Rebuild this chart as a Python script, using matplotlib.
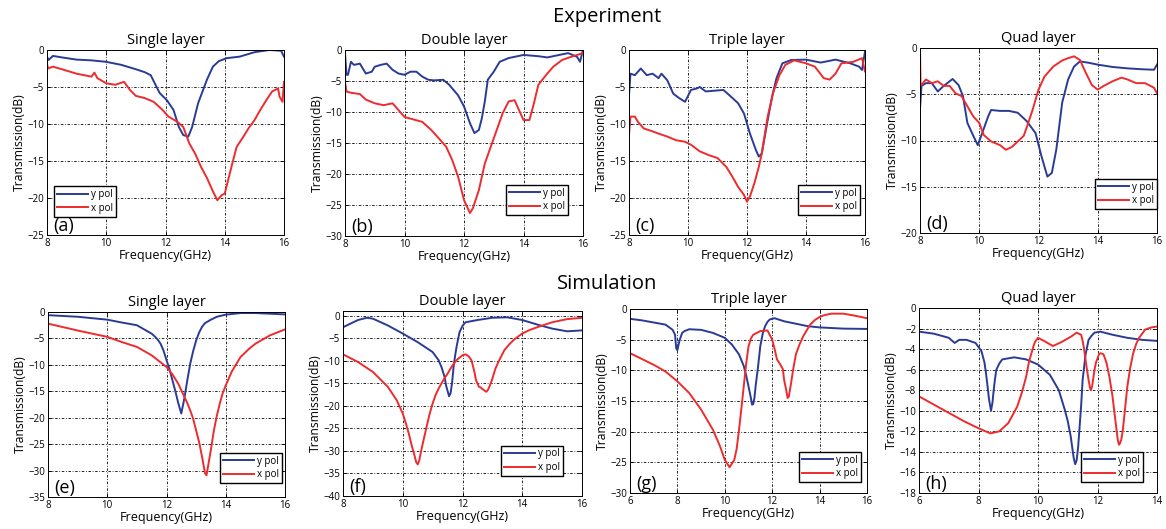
import matplotlib
matplotlib.use("Agg")
import matplotlib.pyplot as plt

plt.rcParams['font.family'] = ['Open Sans', 'DejaVu Sans']

BLUE = "#2a3b96"
RED = "#ee2b2e"

# ---- Experiment (a) single layer
a_y_f = [8.0, 8.05, 8.2, 8.5, 9.0, 9.5, 10.0, 10.5, 11.0, 11.3, 11.5, 11.7, 11.8, 12.05, 12.27, 12.45, 12.6, 12.77,
         12.9, 13.1, 13.4, 13.6, 13.8, 14.07, 14.5, 15.0, 15.5, 15.9, 16.0]
a_y_v = [-0.9, -1.35, -0.8, -1.0, -1.3, -1.4, -1.6, -2.0, -2.6, -3.0, -3.4, -5.0, -5.8, -6.8, -8.1, -10.4, -11.5, -11.7,
         -10.4, -7.2, -4.0, -2.25, -1.5, -1.1, -0.9, -0.3, 0.0, -0.1, -0.9]
a_x_f = [8.0, 8.03, 8.2, 8.5, 9.0, 9.5, 9.6, 9.7, 10.0, 10.3, 10.6, 10.8, 11.0, 11.3, 11.6, 11.9, 12.1, 12.4, 12.6,
         12.8, 13.0, 13.2, 13.4, 13.6, 13.75, 13.9, 14.0, 14.2, 14.4, 14.6, 14.8, 15.0, 15.2, 15.4, 15.6, 15.8, 15.85,
         15.95, 16.0]
a_x_v = [-1.8, -2.5, -2.25, -2.6, -3.2, -3.6, -3.06, -3.8, -4.5, -4.7, -4.3, -5.4, -6.2, -6.5, -7.0, -8.1, -9.0, -9.7,
         -10.4, -12.6, -14.0, -15.8, -17.3, -19.1, -20.3, -19.6, -19.4, -16.2, -13.1, -11.9, -10.6, -9.5, -8.1, -6.8,
         -5.6, -5.2, -6.3, -7.0, -4.3]

# ---- Experiment (b) double layer
b_y_f = [8.0, 8.05, 8.1, 8.2, 8.3, 8.5, 8.7, 8.9, 9.0, 9.2, 9.4, 9.6, 9.8, 10.0, 10.2, 10.4, 10.6, 10.8, 11.0, 11.3,
         11.5, 11.8, 12.0, 12.2, 12.35, 12.5, 12.6, 12.7, 12.8, 13.0, 13.2, 13.5, 14.0, 14.5, 14.8, 15.0, 15.5, 15.8,
         15.9, 16.0]
b_y_v = [-0.5, -4.0, -4.0, -1.9, -2.4, -2.2, -3.8, -3.5, -2.7, -2.4, -2.2, -3.2, -3.8, -4.0, -3.5, -3.5, -4.3, -4.8,
         -4.9, -4.8, -5.6, -7.3, -9.1, -11.8, -13.4, -12.9, -11.0, -8.3, -4.8, -3.5, -1.9, -1.3, -0.8, -1.0, -1.2, -1.0,
         -0.5, -1.1, -1.9, 0.0]
b_x_f = [8.0, 8.05, 8.2, 8.5, 8.7, 9.0, 9.3, 9.6, 9.8, 10.0, 10.3, 10.6, 10.9, 11.2, 11.4, 11.6, 11.8, 12.0, 12.2,
         12.3, 12.5, 12.7, 12.9, 13.1, 13.3, 13.5, 13.7, 13.85, 14.0, 14.2, 14.35, 14.5, 14.8, 15.0, 15.3, 15.6, 16.0]
b_x_v = [-5.1, -6.7, -6.9, -7.1, -8.0, -8.6, -8.9, -8.6, -9.7, -10.8, -11.2, -11.6, -12.9, -14.5, -15.6, -17.7, -20.4,
         -24.2, -26.3, -25.5, -22.6, -18.3, -15.6, -12.9, -10.2, -8.3, -8.1, -9.7, -11.3, -11.3, -8.6, -5.6, -3.8, -2.7,
         -1.6, -1.1, -0.5]

# ---- Experiment (c) triple layer
c_y_f = [8.0, 8.05, 8.2, 8.4, 8.6, 8.8, 9.0, 9.1, 9.3, 9.5, 9.7, 9.9, 10.1, 10.3, 10.4, 10.6, 10.9, 11.2, 11.4, 11.7,
         11.9, 12.1, 12.3, 12.4, 12.5, 12.7, 12.85, 13.0, 13.2, 13.5, 14.0, 14.5, 15.0, 15.5, 15.8, 15.9, 16.0]
c_y_v = [-6.1, -3.2, -3.4, -2.5, -3.4, -3.2, -3.8, -3.2, -4.1, -5.9, -6.5, -7.0, -5.4, -5.2, -5.0, -5.6, -5.5, -5.4,
         -6.1, -7.2, -8.6, -11.3, -13.5, -14.4, -14.0, -9.5, -6.3, -3.8, -1.8, -1.35, -1.3, -1.7, -1.3, -1.8, -2.25,
         -2.7, -0.2]
c_x_f = [8.0, 8.05, 8.2, 8.3, 8.5, 8.8, 9.0, 9.3, 9.6, 9.9, 10.1, 10.4, 10.7, 11.0, 11.3, 11.5, 11.7, 11.9, 12.0,
         12.1, 12.25, 12.4, 12.5, 12.7, 12.9, 13.1, 13.3, 13.6, 14.0, 14.3, 14.6, 14.8, 15.0, 15.2, 15.6, 15.9, 16.0]
c_x_v = [-11.5, -9.0, -9.0, -9.7, -10.6, -11.0, -11.3, -11.7, -12.2, -12.4, -12.8, -13.7, -14.2, -14.6, -15.8, -17.1,
         -18.5, -19.6, -20.5, -19.8, -18.0, -15.8, -14.0, -9.0, -5.6, -3.4, -2.0, -1.4, -1.8, -2.25, -3.8, -4.0, -3.2,
         -1.8, -1.6, -1.1, -2.9]

# ---- Experiment (d) quad layer
d_y_f = [8.0, 8.05, 8.2, 8.4, 8.6, 8.8, 9.0, 9.1, 9.3, 9.45, 9.6, 9.8, 9.95, 10.1, 10.3, 10.4, 10.7, 11.0, 11.3,
         11.6, 11.9, 12.1, 12.3, 12.45, 12.6, 12.8, 13.0, 13.2, 13.4, 13.7, 14.0, 14.5, 15.0, 15.5, 15.9, 16.0]
d_y_v = [-6.5, -4.1, -3.8, -3.8, -4.7, -4.1, -3.6, -3.35, -4.0, -5.2, -8.1, -9.5, -10.5, -9.2, -7.4, -6.7, -6.8,
         -6.8, -7.0, -7.9, -9.2, -11.7, -13.9, -13.5, -11.0, -5.9, -3.4, -2.0, -1.45, -1.6, -1.8, -2.05, -2.2, -2.3,
         -2.35, -1.8]
d_x_f = [8.0, 8.02, 8.2, 8.4, 8.6, 8.8, 9.0, 9.2, 9.4, 9.6, 9.8, 10.0, 10.15, 10.4, 10.7, 10.9, 11.1, 11.3, 11.5,
         11.6, 11.8, 12.0, 12.2, 12.5, 12.8, 13.0, 13.2, 13.4, 13.6, 13.8, 14.0, 14.2, 14.5, 14.8, 15.0, 15.3, 15.6,
         15.9, 16.0]
d_x_v = [0.0, -4.1, -3.4, -3.8, -3.6, -4.1, -4.1, -4.9, -5.2, -6.3, -7.4, -8.1, -9.4, -10.1, -10.5, -11.0, -10.7,
         -10.1, -9.5, -8.6, -6.7, -4.5, -3.1, -2.0, -1.35, -1.1, -0.9, -1.3, -2.7, -4.0, -4.5, -4.1, -3.6, -3.2, -3.4,
         -3.8, -3.8, -4.3, -4.9]

# ---- Simulation (e) single layer
e_y_f = [8.0, 9.0, 10.0, 10.5, 11.0, 11.5, 11.6, 11.7, 11.8, 11.9, 12.0, 12.1, 12.2, 12.3, 12.4, 12.5, 12.6, 12.7,
         12.8, 12.9, 13.0, 13.1, 13.2, 13.3, 13.5, 13.7, 14.0, 14.5, 15.0, 16.0]
e_y_v = [-0.6, -0.9, -1.45, -2.0, -2.5, -4.1, -4.6, -5.2, -6.0, -7.3, -9.1, -10.8, -12.9, -15.0, -17.3, -19.2, -16.4,
         -13.0, -9.8, -7.4, -5.4, -3.9, -2.8, -2.1, -1.45, -0.9, -0.5, -0.2, -0.2, -0.45]
e_x_f = [8.0, 9.0, 10.0, 10.5, 11.0, 11.5, 12.0, 12.2, 12.4, 12.5, 12.6, 12.7, 12.8, 12.9, 13.0, 13.1, 13.2, 13.3,
         13.35, 13.4, 13.5, 13.6, 13.7, 13.8, 13.9, 14.0, 14.2, 14.5, 14.8, 15.0, 15.5, 16.0]
e_x_v = [-2.2, -3.5, -4.7, -5.7, -6.6, -8.2, -10.4, -11.8, -13.6, -14.8, -16.0, -17.2, -18.6, -20.2, -22.4, -24.6,
         -27.4, -30.5, -30.9, -29.3, -26.0, -22.4, -19.6, -17.3, -15.3, -13.9, -11.3, -8.5, -6.9, -6.0, -4.4, -3.3]

# ---- Simulation (f) double layer
f_y_f = [8.0, 8.5, 8.8, 9.0, 9.5, 10.0, 10.5, 11.0, 11.2, 11.3, 11.4, 11.45, 11.55, 11.6, 11.65, 11.7, 11.75, 11.8,
         11.85, 11.9, 12.0, 12.1, 12.5, 13.0, 13.5, 14.0, 14.5, 15.0, 15.5, 16.0]
f_y_v = [-2.6, -1.0, -0.5, -0.7, -2.2, -4.0, -5.9, -8.1, -9.9, -11.5, -13.6, -15.5, -17.9, -17.2, -15.0, -11.5, -9.0,
         -7.0, -5.3, -3.7, -2.3, -1.5, -1.0, -0.5, -0.4, -1.0, -2.0, -2.9, -3.5, -3.3]
f_x_f = [8.0, 8.5, 9.0, 9.5, 9.8, 10.0, 10.1, 10.2, 10.3, 10.4, 10.45, 10.5, 10.55, 10.6, 10.7, 10.8, 10.9, 11.0,
         11.1, 11.2, 11.35, 11.5, 11.65, 11.8, 12.0, 12.1, 12.2, 12.3, 12.4, 12.45, 12.5, 12.55, 12.6, 12.65, 12.75,
         12.8, 12.85, 12.9, 13.0, 13.1, 13.2, 13.4, 13.55, 13.7, 13.85, 14.0, 14.25, 14.5, 15.0, 15.5, 16.0]
f_x_v = [-8.6, -10.3, -12.5, -15.8, -18.8, -21.7, -23.8, -26.1, -28.8, -31.2, -32.5, -33.0, -32.2, -30.5, -27.5,
         -24.6, -21.8, -19.5, -17.6, -16.2, -14.4, -12.9, -11.2, -9.9, -8.8, -8.6, -9.0, -9.9, -12.5, -14.3, -15.0,
         -15.8, -15.9, -16.2, -16.7, -16.9, -16.5, -15.8, -14.0, -11.8, -10.3, -7.7, -6.5, -5.5, -4.7, -4.0, -3.2,
         -2.6, -1.5, -0.8, -0.5]

# ---- Simulation (g) triple layer
g_y_f = [6.0, 6.5, 7.0, 7.5, 7.8, 7.9, 7.95, 8.0, 8.05, 8.1, 8.2, 8.3, 8.5, 9.0, 9.5, 10.0, 10.3, 10.6, 10.8, 10.9,
         11.0, 11.1, 11.15, 11.2, 11.25, 11.3, 11.4, 11.5, 11.6, 11.7, 11.8, 11.9, 12.1, 12.5, 13.0, 13.5, 14.0, 15.0,
         16.0]
g_y_v = [-1.6, -1.85, -2.2, -2.55, -3.4, -4.2, -6.4, -6.7, -5.8, -5.0, -3.9, -3.6, -3.3, -3.4, -3.9, -4.7, -5.8, -7.4,
         -9.3, -10.8, -12.6, -14.5, -15.6, -15.5, -14.5, -12.6, -9.5, -6.0, -4.0, -2.8, -2.1, -1.7, -1.5, -2.0, -2.4,
         -2.8, -3.0, -3.2, -3.25]
g_x_f = [6.0, 7.0, 7.5, 8.0, 8.5, 9.0, 9.5, 9.8, 10.0, 10.2, 10.4, 10.5, 10.6, 10.7, 10.8, 10.9, 11.0, 11.1, 11.2,
         11.5, 11.8, 12.0, 12.1, 12.2, 12.3, 12.35, 12.45, 12.5, 12.58, 12.65, 12.7, 12.8, 12.9, 13.0, 13.15, 13.3,
         13.6, 13.8, 14.0, 14.2, 14.5, 15.0, 15.5, 16.0]
g_x_v = [-7.2, -9.1, -10.2, -11.8, -13.7, -16.4, -19.7, -22.4, -24.6, -25.8, -24.6, -22.8, -19.7, -16.2, -12.6,
         -9.0, -6.1, -4.8, -4.2, -3.6, -3.5, -5.0, -6.5, -8.2, -8.8, -9.1, -9.8, -11.5, -13.0, -14.5, -14.3, -12.0,
         -9.5, -7.4, -5.8, -4.5, -2.55, -1.8, -1.3, -1.0, -0.76, -0.76, -1.1, -1.5]

# ---- Simulation (h) quad layer
h_y_f = [6.0, 6.5, 7.0, 7.2, 7.35, 7.6, 7.9, 8.1, 8.2, 8.25, 8.3, 8.35, 8.42, 8.47, 8.5, 8.55, 8.6, 8.7, 8.8, 9.2,
         9.6, 10.0, 10.4, 10.7, 10.9, 11.0, 11.1, 11.2, 11.25, 11.3, 11.35, 11.4, 11.45, 11.5, 11.6, 11.7, 11.8, 11.9,
         12.1, 12.5, 13.0, 13.5, 14.0]
h_y_v = [-2.3, -2.5, -2.9, -3.4, -3.1, -3.1, -3.4, -4.2, -5.3, -6.3, -7.5, -8.8, -10.0, -9.2, -8.3, -7.0, -6.0, -5.4,
         -5.0, -4.8, -5.0, -5.5, -6.5, -8.0, -9.9, -11.0, -12.5, -14.6, -15.2, -14.8, -13.5, -11.5, -9.5, -7.0, -4.5,
         -3.1, -2.7, -2.4, -2.3, -2.6, -2.9, -3.1, -3.2]
h_x_f = [6.0, 6.5, 7.0, 7.5, 8.0, 8.4, 8.7, 9.0, 9.3, 9.45, 9.6, 9.7, 9.85, 9.9, 10.0, 10.2, 10.5, 10.8, 11.1, 11.3,
         11.45, 11.5, 11.55, 11.62, 11.7, 11.75, 11.78, 11.82, 11.9, 11.95, 12.05, 12.1, 12.2, 12.3, 12.4, 12.5, 12.6,
         12.68, 12.72, 12.75, 12.8, 12.85, 12.92, 13.0, 13.1, 13.2, 13.3, 13.4, 13.6, 13.8, 14.0]
h_x_v = [-8.6, -9.4, -10.2, -11.0, -11.7, -12.2, -12.0, -11.2, -9.6, -8.3, -6.7, -5.2, -3.7, -3.3, -2.9, -3.2, -3.7,
         -3.3, -2.8, -2.4, -2.6, -3.2, -4.0, -5.5, -7.0, -7.8, -8.0, -7.6, -6.0, -5.3, -4.5, -4.4, -4.5, -5.3, -6.7,
         -8.5, -10.9, -12.8, -13.3, -13.2, -12.8, -11.9, -10.0, -7.7, -5.8, -4.4, -3.5, -2.9, -2.1, -1.9, -1.8]

titles = ["Single layer", "Double layer", "Triple layer", "Quad layer"]
letters = ["(a)", "(b)", "(c)", "(d)", "(e)", "(f)", "(g)", "(h)"]

W, H = 1166, 529
# (left, top, right, bottom) in pixels, plus limits and legend anchor
panels = [
    dict(box=(47, 50, 284, 235), y=(a_y_f, a_y_v), x=(a_x_f, a_x_v), xl=(8, 16), yl=(-25, 0), yt=5,
         leg=("lower left", (0.03, 0.10))),
    dict(box=(345, 50, 583, 236), y=(b_y_f, b_y_v), x=(b_x_f, b_x_v), xl=(8, 16), yl=(-30, 0), yt=5,
         leg=("lower right", (0.937, 0.113))),
    dict(box=(629, 50, 865, 235), y=(c_y_f, c_y_v), x=(c_x_f, c_x_v), xl=(8, 16), yl=(-25, 0), yt=5,
         leg=("lower right", (0.979, 0.108))),
    dict(box=(920, 48, 1157, 233), y=(d_y_f, d_y_v), x=(d_x_f, d_x_v), xl=(8, 16), yl=(-20, 0), yt=5,
         leg=("lower right", (1.0, 0.13))),
    dict(box=(48, 312, 285, 497), y=(e_y_f, e_y_v), x=(e_x_f, e_x_v), xl=(8, 16), yl=(-35, 0), yt=5,
         leg=("lower right", (0.987, 0.076))),
    dict(box=(343, 311, 582, 496), y=(f_y_f, f_y_v), x=(f_x_f, f_x_v), xl=(8, 16), yl=(-40, 1), yt=5,
         leg=("lower right", (0.92, 0.109))),
    dict(box=(630, 309, 867, 493), y=(g_y_f, g_y_v), x=(g_x_f, g_x_v), xl=(6, 16), yl=(-30, 0), yt=5,
         leg=("lower right", (0.975, 0.06))),
    dict(box=(919, 308, 1157, 493), y=(h_y_f, h_y_v), x=(h_x_f, h_x_v), xl=(6, 14), yl=(-18, 0), yt=2,
         leg=("lower right", (0.94, 0.06))),
]

fig = plt.figure(figsize=(W / 100, H / 100), dpi=100)

for i, p in enumerate(panels):
    l, t, r, b = p["box"]
    ax = fig.add_axes([l / W, 1 - b / H, (r - l) / W, (b - t) / H])
    ax.plot(p["y"][0], p["y"][1], color=BLUE, lw=1.4, label="y pol")
    ax.plot(p["x"][0], p["x"][1], color=RED, lw=1.4, label="x pol")
    ax.set_xlim(*p["xl"])
    ax.set_ylim(*p["yl"])
    ax.set_xticks(range(p["xl"][0], p["xl"][1] + 1, 2))
    lo = p["yl"][0]
    ax.set_yticks(list(range(lo, 1, p["yt"])))
    ax.grid(True, color="black", lw=0.6, linestyle=(0, (3, 2, 1, 2)))
    ax.tick_params(direction="in", length=3, width=0.6, labelsize=7, top=True, right=True, pad=2)
    for s in ax.spines.values():
        s.set_linewidth(0.7)
    ax.set_title(titles[i % 4], fontsize=10.5, pad=4)
    ax.set_xlabel("Frequency(GHz)", fontsize=9, labelpad=0)
    ax.set_ylabel("Transmission(dB)", fontsize=8.7, labelpad=1)
    ax.text(0.025, 0.0, letters[i], transform=ax.transAxes, fontsize=13, ha="left", va="bottom")
    loc, anchor = p["leg"]
    ax.legend(loc=loc, bbox_to_anchor=anchor, fontsize=7, frameon=True, fancybox=False, edgecolor="black",
              framealpha=1, borderpad=0.3, handlelength=3.2, handletextpad=0.3, labelspacing=0.25,
              borderaxespad=0)

fig.text(0.5205, 1 - 17 / H, "Experiment", fontsize=14.5, ha="center", va="center")
fig.text(0.5205, 1 - 284 / H, "Simulation", fontsize=14.5, ha="center", va="center")

fig.savefig("out.png", dpi=100)
